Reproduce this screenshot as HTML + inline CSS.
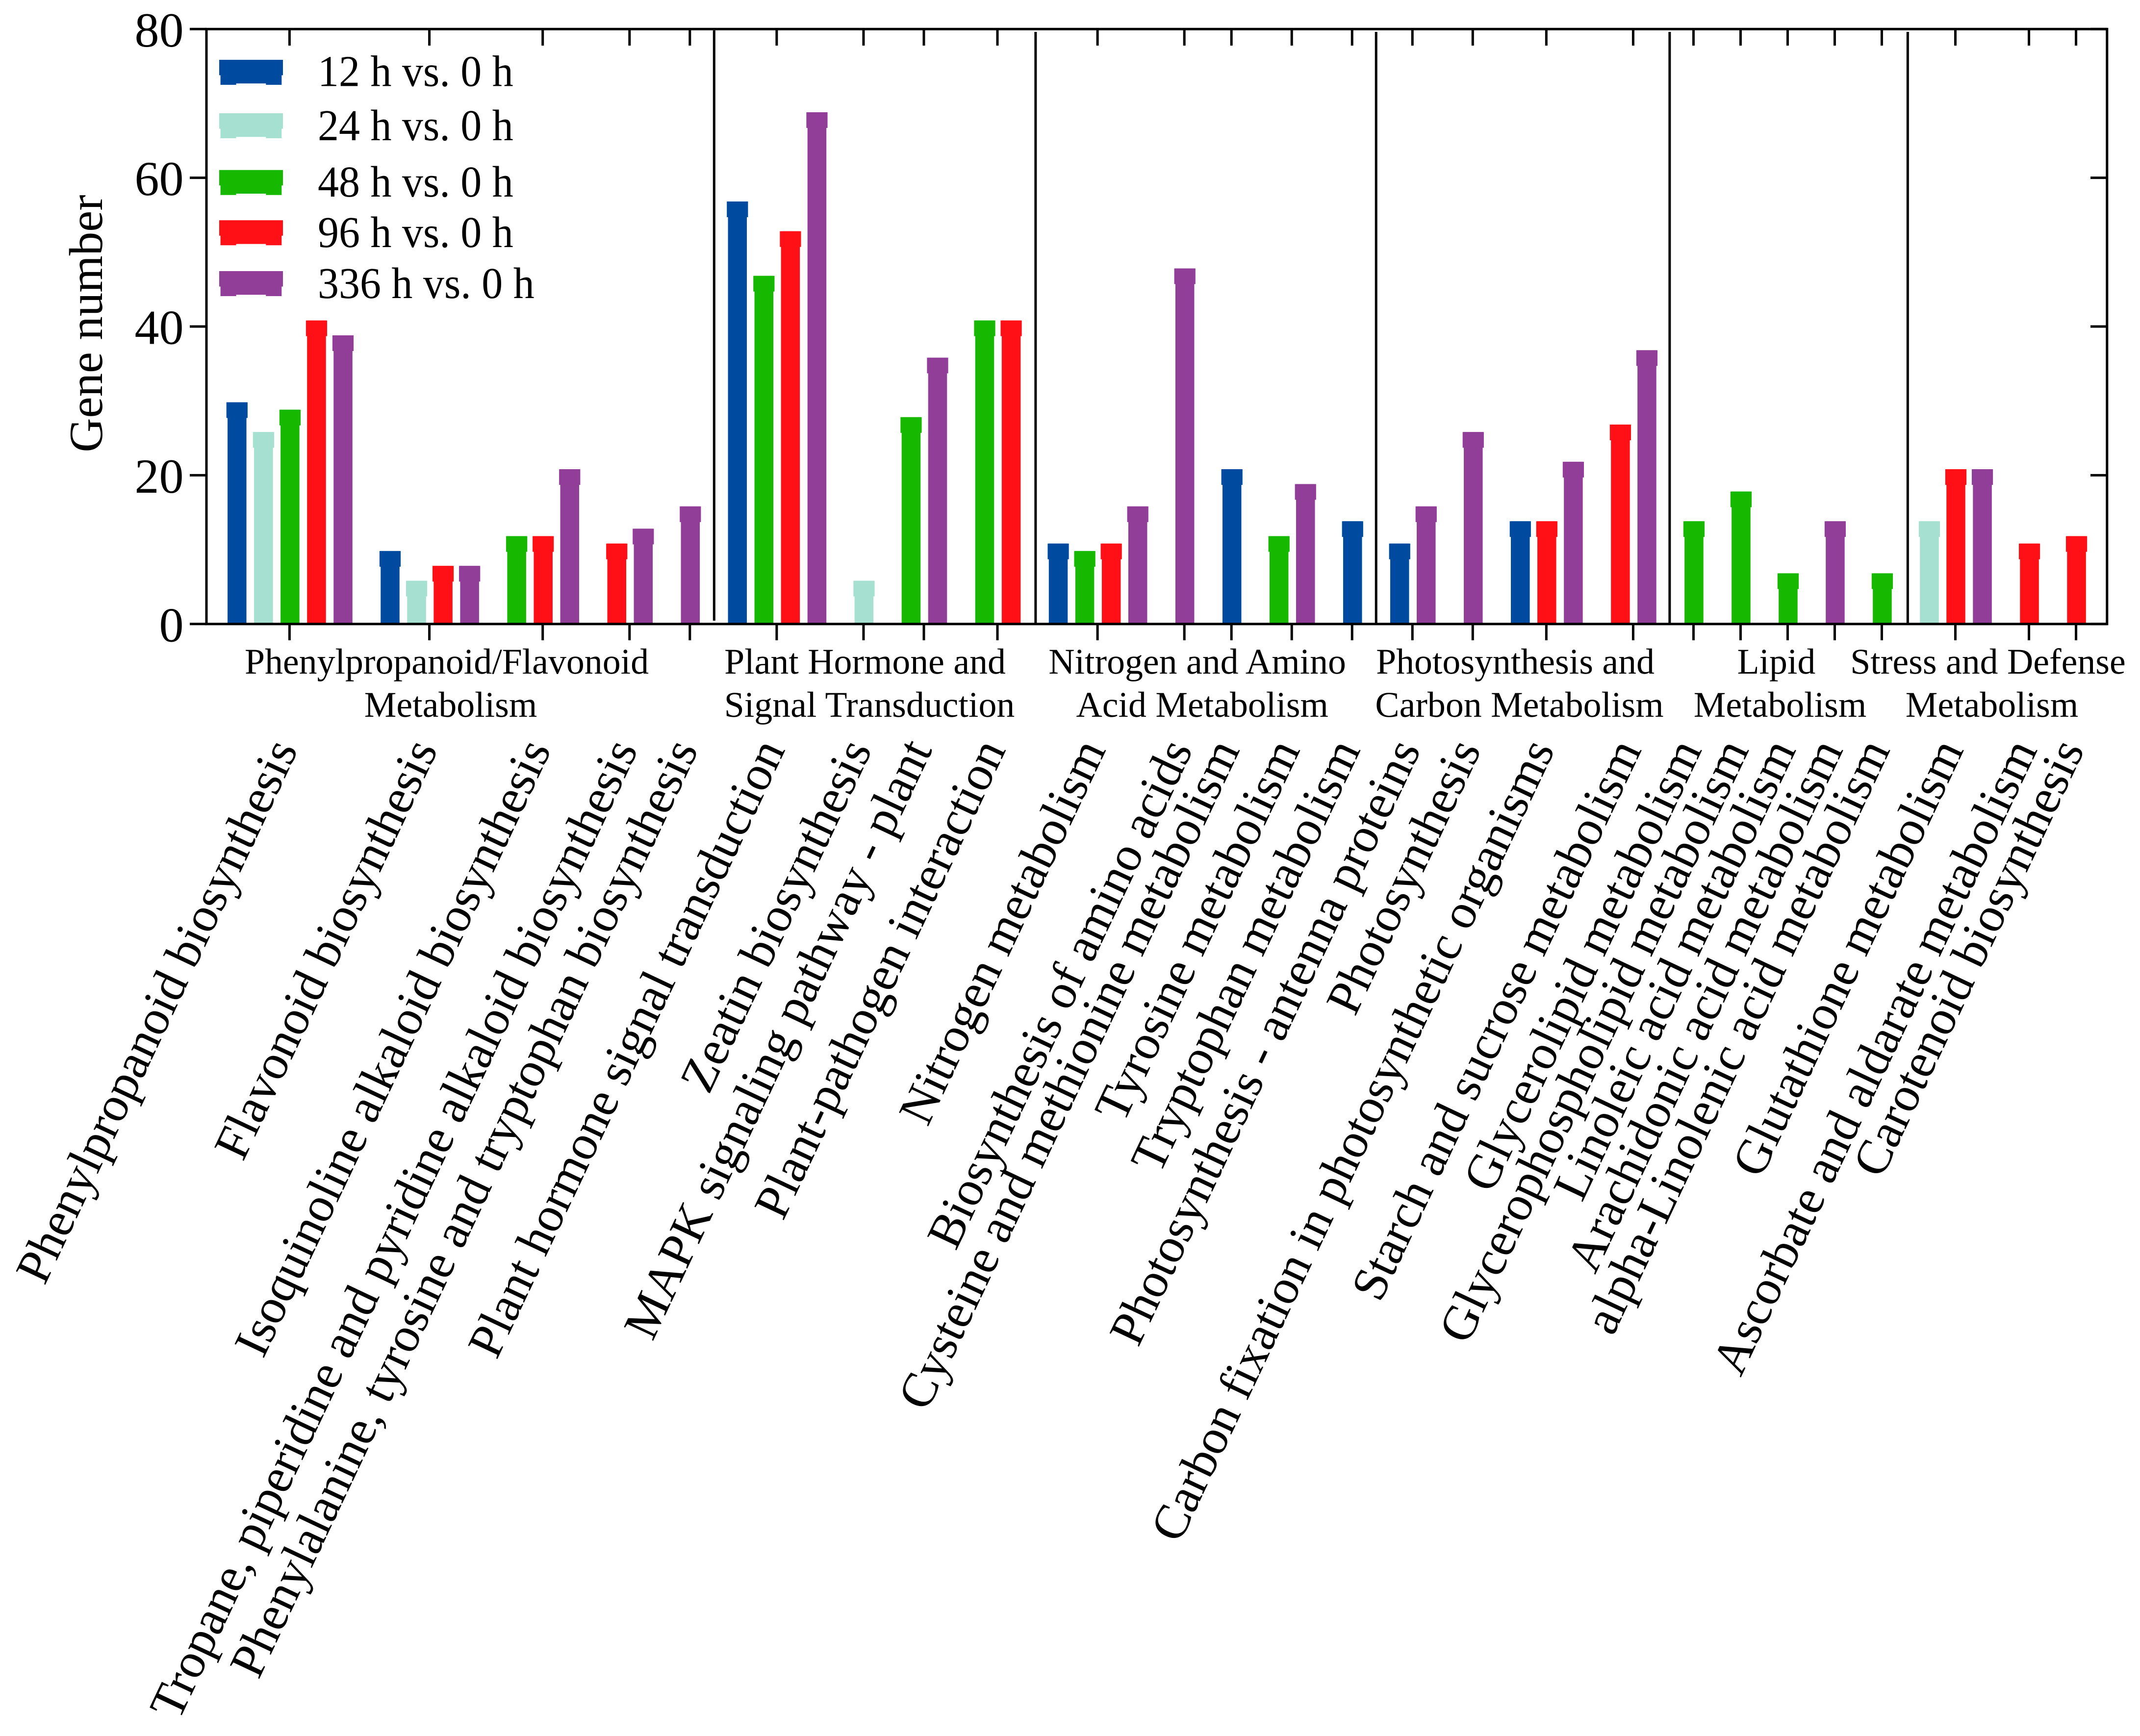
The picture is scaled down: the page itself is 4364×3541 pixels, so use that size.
<!DOCTYPE html>
<html lang="en">
<head>
<meta charset="utf-8">
<title>Gene number by pathway</title>
<style>
html,body{margin:0;padding:0;background:#fff;width:4364px;height:3541px;overflow:hidden}
svg{display:block;font-family:"Liberation Serif",serif;text-rendering:geometricPrecision}
text{fill:#000}
</style>
</head>
<body>
<svg id="chart" xmlns="http://www.w3.org/2000/svg" width="4364" height="3541" viewBox="0 0 4364 3541">
  <rect x="0" y="0" width="4364" height="3541" fill="#fff"/>
  <g id="bars"></g>
  <g id="dividers"></g>
  <g id="axes"></g>
  <g id="tick-labels"></g>
  <text transform="translate(208,660) rotate(-90)" text-anchor="middle" font-size="97">Gene number</text>

  <g font-size="90">
    <g>
      <path transform="translate(447,122)" fill="#004aa0" d="M0 0H130V31.5H127.3V51H95.3V48.3H34.6V51H2.6V31.5H0Z"/>
      <text transform="translate(648,175.5) scale(.955,1)">12 h vs. 0 h</text>
    </g>
    <g>
      <path transform="translate(447,231)" fill="#a6e0d0" d="M0 0H130V31.5H127.3V51H95.3V48.3H34.6V51H2.6V31.5H0Z"/>
      <text transform="translate(648,286) scale(.955,1)">24 h vs. 0 h</text>
    </g>
    <g>
      <path transform="translate(447,346.7)" fill="#16b800" d="M0 0H130V31.5H127.3V51H95.3V48.3H34.6V51H2.6V31.5H0Z"/>
      <text transform="translate(648,401) scale(.955,1)">48 h vs. 0 h</text>
    </g>
    <g>
      <path transform="translate(447,449.3)" fill="#ff1016" d="M0 0H130V31.5H127.3V51H95.3V48.3H34.6V51H2.6V31.5H0Z"/>
      <text transform="translate(648,504) scale(.955,1)">96 h vs. 0 h</text>
    </g>
    <g>
      <path transform="translate(447,553)" fill="#903e98" d="M0 0H130V31.5H127.3V51H95.3V48.3H34.6V51H2.6V31.5H0Z"/>
      <text transform="translate(648,608) scale(.955,1)">336 h vs. 0 h</text>
    </g>
  </g>

  <g font-size="73.8" text-anchor="middle">
    <g>
      <text x="911" y="1374">Phenylpropanoid/Flavonoid</text>
      <text x="919" y="1462">Metabolism</text>
    </g>
    <g>
      <text x="1764" y="1374">Plant Hormone and</text>
      <text x="1773" y="1462">Signal Transduction</text>
    </g>
    <g>
      <text x="2441.6" y="1374">Nitrogen and Amino</text>
      <text x="2451.7" y="1462">Acid Metabolism</text>
    </g>
    <g>
      <text x="3090" y="1374">Photosynthesis and</text>
      <text x="3098.5" y="1462">Carbon Metabolism</text>
    </g>
    <g>
      <text x="3622.4" y="1374">Lipid</text>
      <text x="3630" y="1462">Metabolism</text>
    </g>
    <g>
      <text x="4054" y="1374">Stress and Defense</text>
      <text x="4062" y="1462">Metabolism</text>
    </g>
  </g>
</svg>

<script>
const categories = [
  "Phenylpropanoid biosynthesis",
  "Flavonoid biosynthesis",
  "Isoquinoline alkaloid biosynthesis",
  "Tropane, piperidine and pyridine alkaloid biosynthesis",
  "Phenylalanine, tyrosine and tryptophan biosynthesis",
  "Plant hormone signal transduction",
  "Zeatin biosynthesis",
  "MAPK signaling pathway - plant",
  "Plant-pathogen interaction",
  "Nitrogen metabolism",
  "Biosynthesis of amino acids",
  "Cysteine and methionine metabolism",
  "Tyrosine metabolism",
  "Tryptophan metabolism",
  "Photosynthesis - antenna proteins",
  "Photosynthesis",
  "Carbon fixation in photosynthetic organisms",
  "Starch and sucrose metabolism",
  "Glycerolipid metabolism",
  "Glycerophospholipid metabolism",
  "Linoleic acid metabolism",
  "Arachidonic acid metabolism",
  "alpha-Linolenic acid metabolism",
  "Glutathione metabolism",
  "Ascorbate and aldarate metabolism",
  "Carotenoid biosynthesis"
];
const series12h  = [30,10,null,null,null,57,null,null,null,11,null,21,null,14,11,null,14,null,null,null,null,null,null,null,null,null];
const series24h  = [26,6,null,null,null,null,6,null,null,null,null,null,null,null,null,null,null,null,null,null,null,null,null,14,null,null];
const series48h  = [29,null,12,null,null,47,null,28,41,10,null,null,12,null,null,null,null,null,14,18,7,null,7,null,null,null];
const series96h  = [41,8,12,11,null,53,null,null,41,11,null,null,null,null,null,null,14,27,null,null,null,null,null,21,11,12];
const series336h = [39,8,21,13,16,69,null,36,null,16,48,null,19,null,16,26,22,37,null,null,null,14,null,21,null,null];
const seriesNames = ["12h","24h","48h","96h","336h"];
const yTicks = [0,20,40,60,80];
const groupEnds = [4,8,13,17,22];

const allSeries = [series12h, series24h, series48h, series96h, series336h];
const seriesColors = ["#004aa0","#a6e0d0","#16b800","#ff1016","#903e98"];

const NS = "http://www.w3.org/2000/svg";
const plot = {left:421, right:4296.8, top:59.3, bottom:1272.8};
const yMax = 80;
const firstBar = 483.3, barStep = 54.05, catGap = 96;
const bodyW = 38.5, capW = 43.2, capH = 32, capDrop = 2.8;

function yScale(v){ return plot.bottom - v * (plot.bottom - plot.top) / yMax; }

function make(tag, attrs, parent){
  const el = document.createElementNS(NS, tag);
  for (const k in attrs) el.setAttribute(k, attrs[k]);
  parent.appendChild(el);
  return el;
}

const barsG = document.getElementById("bars");
const divG = document.getElementById("dividers");
const axG = document.getElementById("axes");
const lblG = document.getElementById("tick-labels");

/* Bars: absent values take no slot, so each category is only as wide as its bars. */
let cursor = firstBar;
const catCenters = [], catFirst = [], catLast = [];
categories.forEach(function(name, c){
  const xs = [];
  allSeries.forEach(function(values, s){
    const v = values[c];
    if (v === null || v === undefined) return;
    const x = cursor + xs.length * barStep;
    xs.push(x);
    const top = yScale(v) + capDrop;
    const g = make("g", {fill: seriesColors[s]}, barsG);
    
    
    make("rect", {x: x - bodyW / 2, y: top, width: bodyW, height: Math.max(0, plot.bottom - top)}, g);
    make("rect", {x: x - capW / 2, y: top, width: capW, height: capH}, g);
  });
  const count = Math.max(xs.length, 1);
  catFirst.push(cursor);
  catLast.push(cursor + (count - 1) * barStep);
  catCenters.push(cursor + (count - 1) * barStep / 2);
  cursor += (count - 1) * barStep + catGap;
});

/* Category dividers */
groupEnds.forEach(function(c, i){
  const nudge = [0.5, 1.8, 0, -1.6, 3.9][i];
  const x = (catLast[c] + catFirst[c + 1]) / 2 + nudge;
  const line = make("line", {x1: x, x2: x, y1: i === 0 ? 62 : 65, y2: i === 0 ? 1266 : 1273, stroke: "#000", "stroke-width": 5}, divG);
  
  
});

/* Frame */
const frame = make("rect", {x: plot.left, y: plot.top, width: plot.right - plot.left, height: plot.bottom - plot.top, fill: "none", stroke: "#000", "stroke-width": 5}, axG);



/* Y ticks */
yTicks.forEach(function(t){
  const y = yScale(t);
  const left = make("line", {x1: 387, x2: plot.left, y1: y, y2: y, stroke: "#000", "stroke-width": 5}, axG);
  
  
  const right = make("line", {x1: 4263, x2: plot.right, y1: y, y2: y, stroke: "#000", "stroke-width": 5}, axG);
  
  
  const label = make("text", {x: 374.5, y: y + 35.5, "text-anchor": "end", "font-size": 100}, lblG);
  
  
  label.textContent = t;
});

/* X ticks and rotated labels */
categories.forEach(function(name, c){
  const x = catCenters[c];
  const bottom = make("line", {x1: x - 1, x2: x - 1, y1: plot.bottom, y2: 1306, stroke: "#000", "stroke-width": 5}, axG);
  
  
  const top = make("line", {x1: x - 1, x2: x - 1, y1: plot.top, y2: 93, stroke: "#000", "stroke-width": 5}, axG);
  
  
  const label = make("text", {transform: "translate(" + (x + 17) + ",1529) rotate(-64.7)", "text-anchor": "end", "font-size": 100.7}, lblG);
  
  
  label.textContent = name;
});
</script>
</body>
</html>
